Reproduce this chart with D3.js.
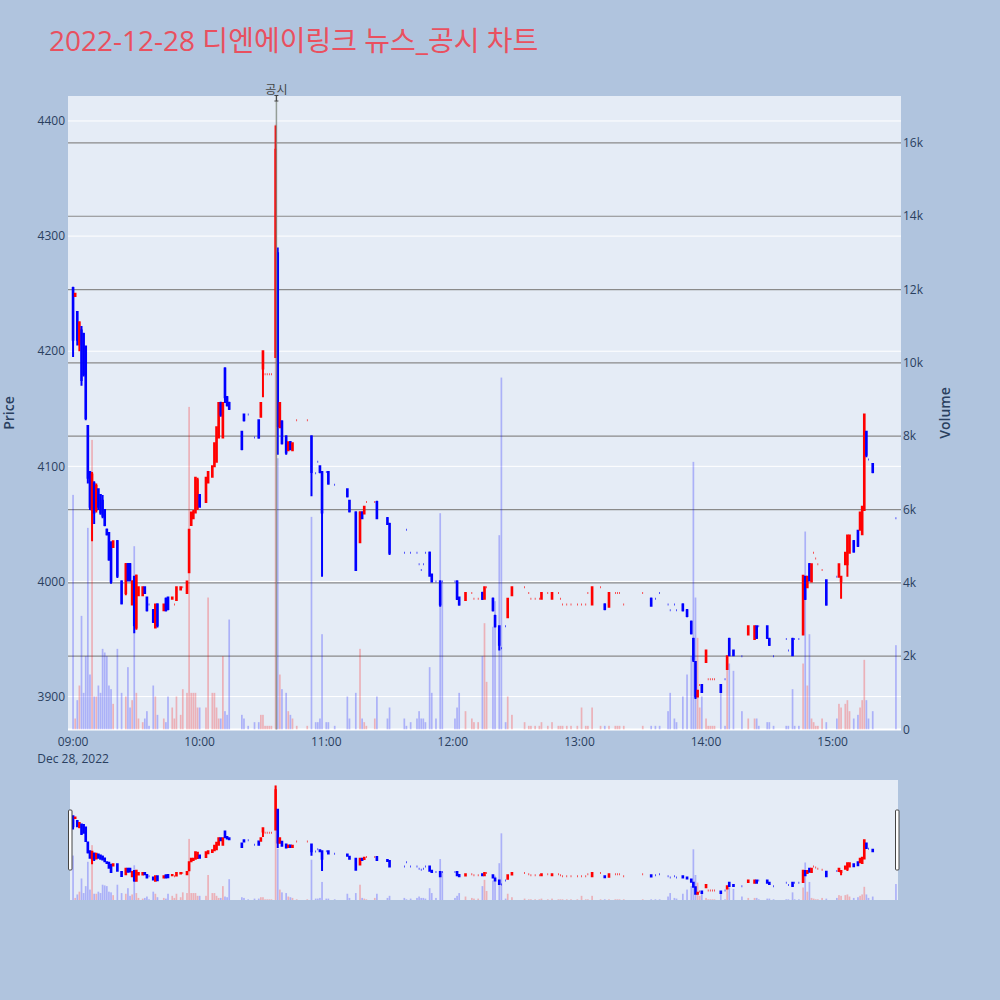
<!DOCTYPE html>
<html><head><meta charset="utf-8">
<script src="https://cdn.jsdelivr.net/npm/d3@7"></script>
<style>body{margin:0;background:#B0C4DE;} svg{display:block}</style>
</head><body>
<svg id="c" width="1000" height="1000"></svg>
<script>
const chartTitle = "2022-12-28 디엔에이링크 뉴스_공시 차트";
const newsTime = "10:36";
const newsLabel = "공시";
const times = [
 "09:00","09:01","09:02","09:03","09:04","09:05","09:06","09:07","09:08","09:09","09:10","09:11","09:12","09:13","09:14","09:15","09:16","09:17","09:18","09:19","09:21","09:23","09:25","09:26","09:27","09:28","09:29","09:30","09:31","09:33","09:34","09:35","09:36","09:38","09:39","09:40","09:43","09:44","09:45","09:47","09:48","09:49","09:51","09:52","09:54","09:55","09:56","09:57","09:58","09:59",
 "10:00","10:03","10:04","10:06","10:07","10:08","10:09","10:10","10:11","10:12","10:13","10:14","10:20","10:21","10:23","10:26","10:28","10:29","10:30","10:31","10:32","10:33","10:34","10:36","10:37","10:38","10:39","10:41","10:42","10:43","10:44","10:46","10:51","10:53","10:55","10:56","10:57","10:58",
 "11:00","11:01","11:04","11:10","11:11","11:14","11:16","11:17","11:18","11:19","11:23","11:24","11:29","11:30","11:37","11:38","11:40","11:43","11:44","11:45","11:46","11:47","11:49","11:50","11:52","11:54","11:55",
 "12:01","12:02","12:03","12:06","12:09","12:10","12:12","12:14","12:15","12:16","12:19","12:20","12:22","12:23","12:25","12:26","12:28","12:34","12:36","12:37","12:39","12:41","12:42","12:45","12:47","12:50","12:51","12:52","12:54","12:56","12:59",
 "13:01","13:03","13:04","13:06","13:10","13:12","13:14","13:17","13:18","13:19","13:21","13:30","13:34","13:36","13:38","13:42","13:43","13:45","13:46","13:49","13:51","13:53","13:54","13:55","13:56","13:57","13:58",
 "14:00","14:01","14:02","14:03","14:04","14:07","14:09","14:10","14:11","14:13","14:17","14:20","14:23","14:24","14:25","14:29","14:30","14:32","14:38","14:39","14:41","14:42","14:44","14:46","14:47","14:48","14:49","14:50","14:51","14:52","14:53","14:55","14:57",
 "15:02","15:03","15:04","15:06","15:07","15:08","15:10","15:12","15:13","15:14","15:15","15:16","15:17","15:19","15:30"];
const opens = [
 4255,4248,4234,4206,4218,4215,4204,4135,4095,4062,4085,4062,4080,4075,4070,4062,4045,4042,4033,4030,4035,4000,3990,4015,4015,3980,4004,3960,3988,3988,3995,3986,3980,3975,3960,3980,3975,3985,3986,3985,3980,3984,3993,3995,3990,4008,4049,4055,4060,4064,
 4075,4069,4086,4091,4100,4104,4125,4155,4125,4185,4160,4155,4130,4145,4145,4125,4140,4143,4185,4180,4180,4180,4180,4195,4285,4134,4139,4126,4114,4121,4114,4140,4140,4126,4094,4104,4100,4095,
 4095,4095,4084,4080,4070,4060,4034,4060,4059,4069,4069,4069,4055,4050,4025,4045,4025,4025,4015,4010,4015,4025,4025,4006,4000,4000,4000,
 4000,4000,3986,3984,3990,3985,3985,3990,3985,3995,3985,3970,3961,3942,3961,3969,3988,3995,3990,3985,3985,3985,3985,3990,3985,3990,3985,3980,3980,3980,3980,
 3980,3980,3990,3980,3995,3980,3978,3990,3990,3990,3980,3990,3985,3985,3990,3980,3975,3980,3975,3980,3975,3965,3950,3930,3900,3910,3910,
 3930,3915,3915,3915,3915,3910,3915,3924,3950,3940,3935,3954,3950,3961,3961,3961,3950,3935,3950,3940,3950,3950,3950,3954,4004,3995,4015,4000,4025,4020,4015,4010,4001,
 4004,4004,4000,4015,4015,4025,4035,4044,4045,4041,4062,4130,4106,4102,4055];
const highs = [
 4256,4250,4235,4226,4222,4216,4205,4136,4096,4095,4087,4085,4081,4076,4075,4063,4046,4043,4035,4035,4036,4001,4016,4016,4016,4001,4005,4006,3995,3995,3995,3987,3980,3976,3980,3981,3980,3986,3986,3986,3980,3995,3995,3995,4000,4045,4060,4062,4090,4090,
 4076,4090,4095,4100,4120,4134,4155,4156,4155,4186,4161,4156,4131,4146,4145,4125,4141,4155,4200,4180,4180,4180,4180,4396,4290,4155,4140,4127,4121,4122,4121,4140,4140,4127,4094,4104,4101,4096,
 4095,4096,4084,4081,4071,4061,4061,4061,4065,4069,4069,4070,4056,4051,4025,4045,4025,4025,4015,4010,4015,4025,4026,4007,4000,4001,4000,
 4000,4001,3987,3990,3990,3985,3985,3991,3995,3995,3986,3971,3962,3942,3961,3985,3995,3995,3990,3985,3985,3985,3990,3990,3990,3990,3985,3980,3980,3980,3980,
 3980,3980,3990,3995,3995,3981,3990,3990,3990,3990,3980,3990,3986,3985,3990,3980,3975,3980,3975,3981,3976,3966,3951,3931,3905,3910,3911,
 3940,3915,3915,3915,3915,3911,3915,3935,3951,3941,3935,3961,3961,3962,3961,3962,3951,3935,3950,3940,3951,3950,3950,4005,4005,4004,4016,4015,4025,4020,4015,4010,4002,
 4004,4015,4004,4025,4040,4040,4036,4045,4060,4065,4145,4131,4106,4103,4055];
const lows = [
 4195,4247,4205,4200,4170,4178,4140,4085,4062,4035,4050,4060,4062,4058,4055,4048,4040,4018,3998,4030,4003,3980,3988,4000,4000,3980,3955,3958,3988,3988,3990,3974,3980,3964,3960,3960,3975,3974,3975,3985,3980,3984,3993,3995,3990,4008,4049,4055,4060,4062,
 4064,4069,4086,4091,4100,4104,4125,4143,4125,4155,4152,4149,4114,4139,4145,4125,4124,4143,4160,4180,4180,4180,4180,4195,4110,4134,4119,4110,4114,4114,4114,4140,4140,4074,4094,4104,4094,4004,
 4095,4084,4084,4073,4060,4009,4034,4054,4059,4069,4069,4054,4049,4023,4025,4045,4025,4025,4015,4010,4015,4025,4004,3999,4000,3978,4000,
 4000,3984,3979,3984,3990,3985,3985,3984,3985,3995,3974,3960,3940,3942,3961,3969,3988,3995,3990,3985,3985,3985,3985,3990,3985,3990,3985,3980,3980,3980,3980,
 3980,3980,3990,3980,3995,3975,3978,3990,3990,3990,3980,3990,3978,3985,3990,3980,3975,3980,3975,3974,3969,3954,3930,3898,3900,3910,3903,
 3930,3915,3915,3915,3915,3903,3915,3924,3935,3935,3935,3954,3950,3950,3961,3950,3944,3935,3950,3940,3935,3950,3950,3954,3984,3995,4000,4000,4025,4020,4015,4010,3979,
 4004,4004,3985,4015,4004,4025,4025,4030,4045,4041,4062,4108,4106,4094,4055];
const closes = [
 4210,4250,4210,4225,4175,4180,4142,4090,4065,4093,4060,4083,4065,4060,4057,4049,4041,4019,4000,4035,4005,3981,4015,4001,4002,4000,3962,4005,3995,3995,3990,3975,3980,3965,3980,3962,3980,3975,3976,3986,3980,3995,3995,3995,4000,4045,4060,4060,4090,4088,
 4065,4090,4095,4100,4120,4134,4155,4145,4155,4160,4153,4150,4115,4140,4145,4125,4125,4155,4200,4180,4180,4180,4180,4375,4135,4155,4120,4112,4121,4115,4120,4140,4140,4095,4094,4104,4095,4060,
 4095,4085,4084,4074,4061,4010,4060,4055,4065,4069,4069,4055,4050,4025,4025,4045,4025,4025,4015,4010,4015,4025,4005,4000,4000,3980,4000,
 4000,3985,3980,3990,3990,3985,3985,3985,3995,3995,3975,3961,3945,3942,3961,3985,3995,3995,3990,3985,3985,3985,3990,3990,3990,3990,3985,3980,3980,3980,3980,
 3980,3980,3990,3995,3995,3976,3990,3990,3990,3990,3980,3990,3979,3985,3990,3980,3975,3980,3975,3975,3970,3955,3932,3900,3905,3910,3904,
 3940,3915,3915,3915,3915,3904,3915,3935,3936,3936,3935,3961,3961,3951,3961,3951,3945,3935,3950,3940,3936,3950,3950,4005,3985,4004,4001,4015,4025,4020,4015,4010,3980,
 4004,4015,4004,4025,4040,4040,4026,4031,4060,4065,4145,4110,4106,4095,4055];
const volumes = [
 6400,300,800,1200,3100,1000,2000,5500,1500,7900,900,900,1200,1000,2200,2100,2000,1200,1100,700,2200,1000,900,1700,600,800,5000,1000,300,200,300,500,100,1200,900,400,300,200,900,600,300,900,400,1100,1000,8800,1000,1000,1000,600,
 600,600,3600,1000,1000,600,300,300,2000,500,400,3000,400,300,100,200,200,400,400,100,100,100,100,16500,7400,1500,1100,1000,500,400,300,100,100,5800,200,200,300,2600,
 200,200,100,900,300,1000,2200,300,200,100,300,900,300,600,300,100,200,300,500,300,300,200,1700,1000,300,5900,4000,
 300,600,1000,500,300,200,200,2000,2900,1300,2800,3500,5300,9600,200,900,400,200,100,100,100,100,200,100,200,100,100,100,100,100,100,
 600,100,100,600,100,100,100,100,100,100,100,100,100,100,100,500,1000,300,200,900,1500,2000,7300,3600,2500,600,900,
 300,100,100,100,100,1100,100,2000,1800,1600,500,300,300,300,100,200,200,100,100,100,1100,100,100,1800,5400,1200,2600,300,200,100,100,300,200,
 300,700,600,700,800,500,300,400,600,800,1900,800,300,500,2300];

const svg = d3.select("#c");
const W = 1000, H = 1000;
const plot = {l: 68, r: 901, t: 96, b: 729.5};
const slider = {t: 780, b: 900};
const parseT = d3.timeParse("%Y-%m-%d %H:%M");
const day = "2022-12-28";
const data = times.map((t, i) => ({t: parseT(day + " " + t), o: opens[i], h: highs[i], l: lows[i], c: closes[i], v: volumes[i]}));
let prevUp = false;
data.forEach(d => { d.up = d.c > d.o ? true : d.c < d.o ? false : prevUp; prevUp = d.up; });

const t0 = parseT(day + " 09:00");
const minute = 60000;
const x = d3.scaleTime().domain([new Date(+t0 - 2.4 * minute), new Date(+t0 + 392.4 * minute)]).range([plot.l, plot.r]);
const y = d3.scaleLinear().domain([3871.4, 4421.7]).range([plot.b, plot.t]);
const yv = d3.scaleLinear().domain([0, 17280]).range([plot.b, plot.t]);
const ys = d3.scaleLinear().domain([3871.4, 4421.7]).range([slider.b, slider.t]);
const yvs = d3.scaleLinear().domain([0, 17280]).range([slider.b, slider.t]);

const UP = "#FF0000", DOWN = "#0000FF";
const font = "'Open Sans', 'Noto Sans CJK KR', sans-serif";
const axisColor = "#2a3f5f";

svg.append("rect").attr("width", W).attr("height", H).attr("fill", "#B0C4DE");
svg.append("rect").attr("x", plot.l).attr("y", plot.t).attr("width", plot.r - plot.l).attr("height", plot.b - plot.t).attr("fill", "#E5ECF6");

const priceTicks = [3900, 4000, 4100, 4200, 4300, 4400];
svg.append("g").selectAll("line").data(priceTicks).join("line")
  .attr("x1", plot.l).attr("x2", plot.r).attr("y1", d => y(d)).attr("y2", d => y(d))
  .attr("stroke", "#fff").attr("stroke-width", 1);
const volTicks = [2000, 4000, 6000, 8000, 10000, 12000, 14000, 16000];
svg.append("g").selectAll("line").data(volTicks).join("line")
  .attr("x1", plot.l).attr("x2", plot.r).attr("y1", d => yv(d)).attr("y2", d => yv(d))
  .attr("stroke", "#8a8a8a").attr("stroke-width", 1.2);
svg.append("line").attr("x1", plot.l).attr("x2", plot.r).attr("y1", yv(0)).attr("y2", yv(0)).attr("stroke", "#fff").attr("stroke-width", 2);

function candlePath(d, yS) {
  const cx = x(d.t), w = 0.65;
  const top = yS(Math.max(d.o, d.c)), bot = yS(Math.min(d.o, d.c));
  return `M${cx - w / 2},${bot}V${top}H${cx + w / 2}V${bot}Z` +
         `M${cx},${yS(d.l)}V${bot}M${cx},${top}V${yS(d.h)}`;
}
function drawCandles(g, yS) {
  g.selectAll("path").data(data).join("path")
    .attr("d", d => candlePath(d, yS))
    .attr("fill", d => d.up ? UP : DOWN)
    .attr("stroke", d => d.up ? UP : DOWN)
    .attr("stroke-width", 2);
}
function drawVolume(g, yS) {
  const bw = 1.7;
  g.selectAll("rect").data(data).join("rect")
    .attr("x", d => x(d.t) - bw / 2).attr("width", bw)
    .attr("y", d => yS(d.v)).attr("height", d => yS(0) - yS(d.v))
    .attr("fill", d => d.up ? UP : DOWN).attr("fill-opacity", 0.25);
}

svg.append("clipPath").attr("id", "clipMain").append("rect")
  .attr("x", plot.l).attr("y", plot.t).attr("width", plot.r - plot.l).attr("height", plot.b - plot.t);
const gMain = svg.append("g").attr("clip-path", "url(#clipMain)");
drawCandles(gMain.append("g"), y);
drawVolume(gMain.append("g"), yv);

const nx = x(parseT(day + " " + newsTime)) + 0.8;
svg.append("line").attr("x1", nx).attr("x2", nx).attr("y1", plot.t).attr("y2", plot.b)
  .attr("stroke", "#7f8a80").attr("stroke-width", 1.5).attr("stroke-opacity", 0.8);
svg.append("text").attr("x", nx).attr("y", 94).attr("text-anchor", "middle")
  .attr("font-family", font).attr("font-size", 12).attr("fill", "#444").text(newsLabel);
svg.append("path").attr("d", `M${nx},95V101M${nx - 2},95.5H${nx + 2}M${nx - 2},101H${nx + 2}`)
  .attr("stroke", "#444").attr("stroke-width", 1).attr("fill", "none");

svg.append("g").selectAll("text").data(priceTicks).join("text")
  .attr("x", 65).attr("y", d => y(d)).attr("dy", "0.35em").attr("text-anchor", "end")
  .attr("font-family", font).attr("font-size", 12).attr("fill", axisColor).text(d => d);
svg.append("g").selectAll("text").data([0].concat(volTicks)).join("text")
  .attr("x", 903).attr("y", d => yv(d)).attr("dy", "0.35em").attr("text-anchor", "start")
  .attr("font-family", font).attr("font-size", 12).attr("fill", axisColor).text(d => d === 0 ? "0" : (d / 1000) + "k");
const hourTicks = d3.range(9, 16).map(h => parseT(day + " " + String(h).padStart(2, "0") + ":00"));
const xfmt = d3.timeFormat("%H:%M");
svg.append("g").selectAll("text").data(hourTicks).join("text")
  .attr("x", d => x(d)).attr("y", 742).attr("dy", "0.35em").attr("text-anchor", "middle")
  .attr("font-family", font).attr("font-size", 12).attr("fill", axisColor).text(d => xfmt(d));
svg.append("text").attr("x", x(t0)).attr("y", 758.5).attr("dy", "0.35em").attr("text-anchor", "middle")
  .attr("font-family", font).attr("font-size", 12).attr("fill", axisColor).text(d3.timeFormat("%b %-d, %Y")(t0));

svg.append("text").attr("transform", "translate(14,413) rotate(-90)").attr("text-anchor", "middle")
  .attr("font-family", font).attr("font-size", 14).attr("font-weight", 600).attr("fill", axisColor).text("Price");
svg.append("text").attr("transform", "translate(950,413) rotate(-90)").attr("text-anchor", "middle")
  .attr("font-family", font).attr("font-size", 14).attr("font-weight", 600).attr("fill", axisColor).text("Volume");

svg.append("text").attr("x", 49).attr("y", 51).attr("font-family", font).attr("font-size", 28)
  .attr("fill", "#E9505F").text(chartTitle);

svg.append("rect").attr("x", 70).attr("y", slider.t).attr("width", 828).attr("height", slider.b - slider.t).attr("fill", "#E5ECF6");
svg.append("clipPath").attr("id", "clipSl").append("rect").attr("x", 70).attr("y", slider.t).attr("width", 828).attr("height", slider.b - slider.t);
const gSl = svg.append("g").attr("clip-path", "url(#clipSl)");
drawCandles(gSl.append("g"), ys);
drawVolume(gSl.append("g"), yvs);
[68.5, 895.5].forEach(hx => {
  svg.append("rect").attr("x", hx).attr("y", 810).attr("width", 3.5).attr("height", 60)
    .attr("fill", "#fff").attr("stroke", "#444").attr("stroke-width", 1).attr("rx", 1);
});
</script>
</body></html>
